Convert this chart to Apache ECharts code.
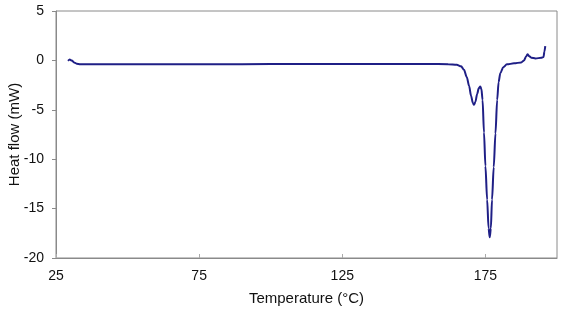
<!DOCTYPE html>
<html>
<head>
<meta charset="utf-8">
<script src="https://cdn.jsdelivr.net/npm/echarts@6/dist/echarts.min.js"></script>
<style>
  html, body { margin: 0; padding: 0; background: #fff; }
  #chart { width: 568px; height: 310px; }
</style>
</head>
<body>
<div id="chart"></div>
<script>
// DSC trace: temperature (°C) and heat flow (mW)
var temperature = [
  29.2, 29.8, 30.5, 31.3, 32.2, 33.5, 45, 60, 80, 100, 120, 140, 155, 162,
  165, 166.5, 167.5, 168.5, 169.3, 170.0, 170.6, 171.0, 171.5, 172.1, 172.7,
  173.2, 173.6, 174.0, 174.5, 175.0, 175.6, 176.1, 176.5, 176.9, 177.3, 177.9,
  178.5, 179.1, 179.6, 180.2, 181.2, 182.5, 185, 187.5, 188.5, 189.2, 189.7,
  190.2, 191, 192.5, 194.5, 195.3, 195.6, 195.9
]
var heatFlow = [
  -0.05, 0.08, 0.0, -0.2, -0.33, -0.38, -0.40, -0.40, -0.39, -0.37, -0.36, -0.36, -0.37, -0.38,
  -0.45, -0.6, -0.95, -1.7, -2.6, -3.6, -4.3, -4.5, -4.2, -3.4, -2.8,
  -2.65, -2.9, -4.0, -7.3, -10.7, -14.1, -17.0, -17.9, -17.0, -14.1, -10.8,
  -7.4, -4.0, -2.2, -1.3, -0.7, -0.4, -0.3, -0.2, 0.0, 0.4, 0.62,
  0.45, 0.28, 0.2, 0.26, 0.35, 0.9, 1.45
]
var xTicks = [25, 75, 125, 175]
var yTicks = [-20, -15, -10, -5, 0, 5]

var points = temperature.map(function (t, i) { return [t, heatFlow[i]] })

var chart = echarts.init(document.getElementById('chart'))
var font = '"Liberation Sans", Arial, sans-serif'
chart.setOption({
  animation: false,
  grid: {
    left: 56, top: 11, right: 11, bottom: 52,
    containLabel: false,
    outerBoundsMode: 'none',
    show: true, borderColor: '#8a8a8a', borderWidth: 1
  },
  xAxis: {
    type: 'value',
    min: 25, max: 200, interval: 50,
    name: 'Temperature (°C)',
    nameLocation: 'middle',
    nameGap: 33,
    nameMoveOverlap: false,
    nameTextStyle: { color: '#111', fontSize: 15, fontFamily: font },
    axisLine: { onZero: false, lineStyle: { color: '#8a8a8a' } },
    axisTick: { inside: true, length: 4, lineStyle: { color: '#aaa' } },
    splitLine: { show: false },
    axisLabel: {
      color: '#111', fontSize: 14, fontFamily: font, margin: 11,
      showMaxLabel: false,
      formatter: function (v) { return xTicks.indexOf(v) >= 0 ? String(v) : '' }
    }
  },
  yAxis: {
    type: 'value',
    min: -20, max: 5, interval: 5,
    name: 'Heat flow (mW)',
    nameLocation: 'middle',
    nameGap: 34,
    nameMoveOverlap: false,
    nameTextStyle: { color: '#111', fontSize: 15, fontFamily: font },
    axisLine: { show: true, onZero: false, lineStyle: { color: '#8a8a8a' } },
    axisTick: { show: true, inside: false, length: 4, lineStyle: { color: '#8a8a8a' } },
    splitLine: { show: false },
    axisLabel: {
      color: '#111', fontSize: 14, fontFamily: font, margin: 12,
      formatter: function (v) { return yTicks.indexOf(v) >= 0 ? String(v) : '' }
    }
  },
  series: [{
    type: 'line',
    data: points,
    showSymbol: false,
    smooth: 0.3,
    smoothMonotone: 'x',
    lineStyle: { color: '#1f1f86', width: 2 }
  }]
})
</script>
</body>
</html>
